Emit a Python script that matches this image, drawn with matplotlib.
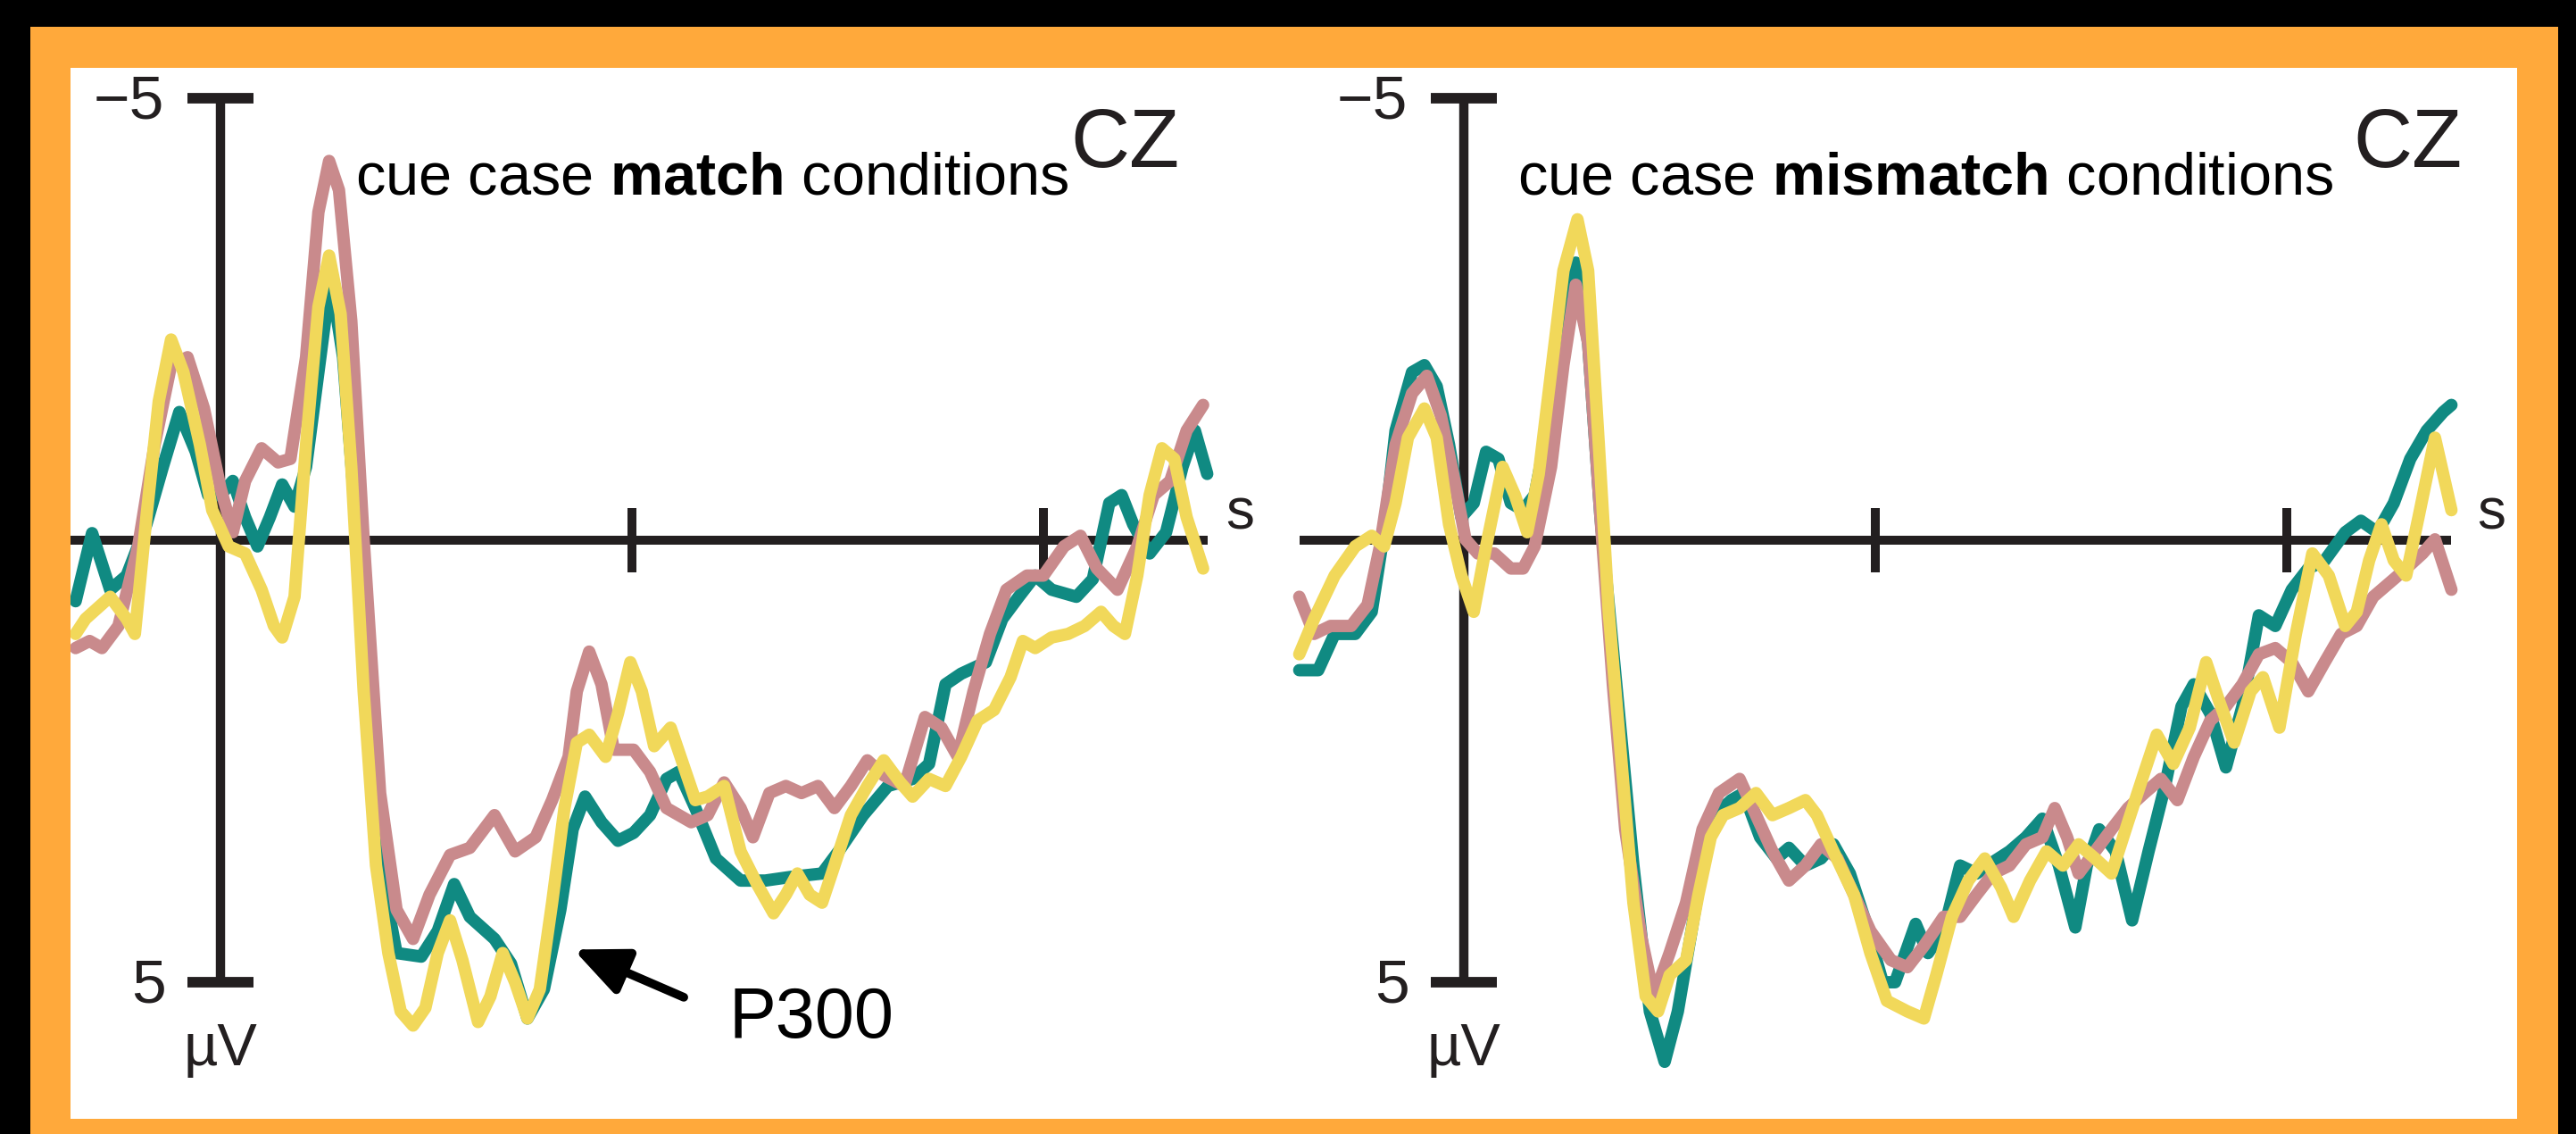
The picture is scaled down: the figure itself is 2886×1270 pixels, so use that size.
import matplotlib
matplotlib.use("Agg")
import matplotlib.pyplot as plt
from matplotlib.patches import Rectangle
import numpy as np

plt.rcParams['font.family'] = ['Liberation Sans', 'DejaVu Sans']
plt.rcParams['mathtext.fontset'] = 'custom'
plt.rcParams['mathtext.rm'] = 'Liberation Sans'
plt.rcParams['mathtext.bf'] = 'Liberation Sans:bold'

# ---- data (time in ms, amplitude in microvolts, negative up) ----
# panel 1: cue case match conditions
m_teal_t = [-176, -156, -134, -114, -90, -70, -50, -30, -15, 0, 15, 30, 45, 60, 75, 90, 104, 119, 134, 149,
            164, 179, 194, 214, 244, 264, 284, 303, 333, 353, 373, 393, 413, 428, 443, 463, 483, 502, 522, 542,
            557, 577, 602, 632, 662, 692, 731, 751, 781, 811, 841, 861, 881, 900, 930, 950, 970, 990, 1010, 1040,
            1060, 1080, 1095, 1109, 1129, 1149, 1169, 1184, 1199]
m_teal_v = [0.69, -0.08, 0.56, 0.40, -0.18, -0.83, -1.45, -1.00, -0.51, -0.51, -0.67, -0.26, 0.07, -0.26, -0.63, -0.38, -0.83, -1.90, -2.97, -2.07,
            -0.26, 1.71, 3.68, 4.67, 4.71, 4.42, 3.89, 4.26, 4.51, 4.79, 5.41, 5.08, 4.18, 3.27, 2.90, 3.19, 3.40, 3.31, 3.11, 2.70,
            2.62, 3.03, 3.60, 3.85, 3.85, 3.81, 3.77, 3.52, 3.11, 2.78, 2.70, 2.53, 1.63, 1.51, 1.38, 0.89, 0.64, 0.40, 0.56, 0.64,
            0.44, -0.42, -0.51, -0.18, 0.15, -0.09, -0.83, -1.24, -0.75]

m_pink_t = [-176, -159, -144, -124, -100, -80, -60, -40, -20, 0, 15, 30, 50, 70, 85, 104, 119, 132, 144, 159,
            174, 194, 214, 234, 254, 279, 303, 333, 358, 383, 403, 423, 433, 448, 463, 478, 502, 522, 542, 572,
            592, 612, 632, 647, 667, 687, 706, 726, 746, 766, 786, 806, 831, 856, 876, 896, 915, 935, 955, 980,
            1000, 1025, 1045, 1065, 1090, 1114, 1134, 1154, 1174, 1194]
m_pink_v = [1.22, 1.14, 1.22, 0.97, 0.07, -1.08, -1.98, -2.07, -1.49, -0.59, -0.09, -0.67, -1.04, -0.88, -0.92, -2.07, -3.71, -4.29, -3.96, -2.48,
            -0.01, 2.86, 4.18, 4.51, 4.01, 3.56, 3.48, 3.11, 3.52, 3.36, 2.94, 2.45, 1.71, 1.26, 1.63, 2.37, 2.37, 2.62, 3.03, 3.19,
            3.11, 2.74, 3.03, 3.36, 2.86, 2.78, 2.86, 2.78, 3.03, 2.78, 2.49, 2.66, 2.78, 2.00, 2.12, 2.45, 1.71, 1.06, 0.56, 0.40,
            0.40, 0.07, -0.05, 0.32, 0.56, 0.07, -0.51, -0.67, -1.24, -1.53]

m_yell_t = [-176, -164, -134, -114, -104, -90, -75, -60, -45, -25, -10, 10, 30, 50, 65, 75, 90, 104, 119, 132,
            146, 159, 174, 189, 204, 219, 234, 249, 264, 279, 294, 313, 328, 343, 358, 373, 388, 403, 418, 433,
            448, 468, 483, 498, 512, 527, 547, 562, 577, 592, 612, 632, 652, 672, 687, 701, 716, 731, 746, 766,
            786, 806, 826, 841, 861, 881, 900, 920, 940, 960, 975, 990, 1010, 1030, 1050, 1070, 1085, 1099, 1114, 1129,
            1144, 1159, 1174, 1194]
m_yell_v = [1.06, 0.89, 0.64, 0.89, 1.06, -0.26, -1.57, -2.27, -1.90, -1.08, -0.34, 0.07, 0.15, 0.56, 0.97, 1.10, 0.64, -1.08, -2.64, -3.22,
            -2.56, -0.83, 1.71, 3.68, 4.67, 5.33, 5.49, 5.29, 4.67, 4.30, 4.75, 5.45, 5.16, 4.67, 5.00, 5.41, 5.08, 4.10, 3.03, 2.29,
            2.20, 2.45, 1.96, 1.38, 1.71, 2.33, 2.12, 2.53, 2.94, 2.90, 2.78, 3.52, 3.89, 4.22, 4.01, 3.77, 4.01, 4.10, 3.68, 3.11,
            2.78, 2.49, 2.74, 2.90, 2.70, 2.78, 2.45, 2.04, 1.92, 1.55, 1.14, 1.22, 1.10, 1.06, 0.97, 0.81, 0.97, 1.06, 0.40, -0.51,
            -1.04, -0.92, -0.26, 0.32]

# panel 2: cue case mismatch conditions
x_teal_t = [-200, -177, -157, -132, -112, -97, -83, -63, -48, -33, -18, -3, 12, 27, 42, 57, 72, 86, 101, 121,
            136, 151, 166, 186, 206, 226, 244, 260, 275, 290, 305, 325, 340, 360, 380, 395, 415, 434, 449, 469,
            489, 509, 524, 549, 564, 583, 603, 623, 643, 663, 683, 703, 723, 743, 757, 772, 792, 812, 832, 852,
            872, 887, 907, 926, 946, 966, 986, 1006, 1026, 1046, 1071, 1090, 1110, 1130, 1150, 1170, 1190, 1200]
x_teal_v = [1.47, 1.47, 1.06, 1.06, 0.81, -0.09, -1.24, -1.90, -1.98, -1.74, -1.08, -0.26, -0.42, -1.00, -0.92, -0.42, -0.34, -0.51, -1.24, -2.31,
            -3.14, -2.23, -0.26, 1.71, 3.68, 5.33, 5.90, 5.33, 4.51, 3.68, 3.11, 2.94, 2.86, 3.36, 3.60, 3.48, 3.68, 3.60, 3.44, 3.77,
            4.34, 5.00, 5.00, 4.34, 4.67, 4.42, 3.68, 3.77, 3.64, 3.52, 3.36, 3.15, 3.68, 4.38, 3.68, 3.27, 3.52, 4.30, 3.52, 2.78,
            1.88, 1.63, 1.96, 2.57, 1.88, 0.85, 0.97, 0.56, 0.32, 0.23, -0.09, -0.22, -0.09, -0.42, -0.92, -1.24, -1.45, -1.53]

x_pink_t = [-200, -182, -162, -137, -117, -102, -83, -63, -45, -28, -13, 2, 17, 37, 57, 72, 86, 106, 121, 136,
            151, 166, 181, 196, 216, 231, 250, 270, 290, 310, 335, 355, 375, 395, 415, 434, 454, 474, 494, 519,
            539, 559, 583, 603, 623, 643, 663, 683, 703, 718, 733, 747, 767, 787, 807, 827, 847, 867, 887, 907,
            926, 946, 966, 986, 1006, 1026, 1046, 1066, 1085, 1105, 1125, 1145, 1165, 1180, 1200]
x_pink_v = [0.64, 1.06, 0.97, 0.97, 0.73, 0.07, -1.08, -1.66, -1.86, -1.41, -0.75, -0.01, 0.15, 0.15, 0.32, 0.32, 0.07, -0.83, -1.98, -2.89,
            -2.23, -0.26, 1.63, 3.27, 4.51, 5.16, 4.67, 4.10, 3.27, 2.86, 2.70, 3.11, 3.52, 3.85, 3.68, 3.44, 3.60, 4.01, 4.42, 4.75,
            4.83, 4.59, 4.26, 4.26, 4.01, 3.77, 3.68, 3.44, 3.36, 3.03, 3.36, 3.77, 3.52, 3.27, 3.03, 2.86, 2.70, 2.94, 2.45, 2.04,
            1.88, 1.63, 1.29, 1.22, 1.38, 1.71, 1.38, 1.06, 0.97, 0.64, 0.48, 0.32, 0.15, -0.01, 0.56]

x_yell_t = [-200, -182, -157, -132, -112, -97, -83, -68, -48, -33, -18, -3, 12, 27, 47, 62, 77, 91, 106, 121,
            138, 151, 164, 176, 191, 206, 221, 236, 250, 270, 285, 300, 315, 335, 355, 375, 395, 415, 429, 449,
            474, 494, 514, 539, 559, 574, 593, 613, 633, 653, 668, 688, 708, 728, 747, 767, 787, 807, 827, 842,
            862, 882, 902, 917, 936, 956, 971, 991, 1011, 1031, 1051, 1071, 1085, 1100, 1115, 1130, 1145, 1160, 1180, 1200]
x_yell_v = [1.29, 0.89, 0.40, 0.07, -0.05, 0.07, -0.42, -1.16, -1.49, -1.16, -0.18, 0.40, 0.81, 0.07, -0.83, -0.51, -0.09, -0.75, -1.90, -3.05,
            -3.63, -3.05, -1.08, 0.81, 2.45, 4.10, 5.16, 5.33, 4.92, 4.75, 4.01, 3.36, 3.11, 3.03, 2.86, 3.11, 3.03, 2.94, 3.11, 3.52,
            4.01, 4.67, 5.21, 5.33, 5.41, 4.92, 4.26, 3.85, 3.60, 3.93, 4.26, 3.85, 3.52, 3.68, 3.44, 3.60, 3.77, 3.19, 2.62, 2.20,
            2.53, 2.12, 1.38, 1.80, 2.29, 1.71, 1.55, 2.12, 1.06, 0.15, 0.40, 0.97, 0.81, 0.23, -0.18, 0.23, 0.40, -0.26, -1.16, -0.34]

titles = ["match", "mismatch"]
x_ticks = [0.5, 1.0]
y_ticks = [-5, 5]

teal = "#108a82"
pink = "#c98a8c"
yellow = "#f1d85a"
ink = "#231f20"

W, H = 2886, 1270
fig = plt.figure(figsize=(W / 100, H / 100), dpi=100, facecolor="black")

# orange frame + white card
fig.add_artist(Rectangle((34 / W, 0), (2866 - 34) / W, 1 - 30 / H, transform=fig.transFigure,
                         facecolor="#ffa93b", edgecolor="none", zorder=-2))
fig.add_artist(Rectangle((79 / W, 1 - 1253 / H), (2820 - 79) / W, (1253 - 76) / H, transform=fig.transFigure,
                         facecolor="white", edgecolor="none", zorder=-1))

y0, y1 = 6.545, -5.343  # inverted: negative up
panels = [
    dict(left=79, right=1440, xlim=(-0.1822, 1.2939), axis_start=-0.182,
         series=[(m_teal_t, m_teal_v, teal), (m_pink_t, m_pink_v, pink), (m_yell_t, m_yell_v, yellow)],
         title_x=0.164, cz_x=1.165, s_x=1.221),
    dict(left=1443, right=2820, xlim=(-0.2137, 1.2798), axis_start=-0.2,
         series=[(x_teal_t, x_teal_v, teal), (x_pink_t, x_pink_v, pink), (x_yell_t, x_yell_v, yellow)],
         title_x=0.065, cz_x=1.2126, s_x=1.231),
]

for i, p in enumerate(panels):
    ax = fig.add_axes([p["left"] / W, 1 - 1253 / H, (p["right"] - p["left"]) / W, (1253 - 76) / H])
    ax.set_facecolor("none")
    ax.set_xlim(*p["xlim"])
    ax.set_ylim(y0, y1)
    ax.axis("off")

    # hand drawn axes
    ax.plot([p["axis_start"], 1.2], [0, 0], color=ink, lw=7.2, solid_capstyle="butt", zorder=2)
    ax.plot([0, 0], y_ticks, color=ink, lw=7.5, solid_capstyle="butt", zorder=2)
    for yt in y_ticks:
        ax.plot([-0.04, 0.04], [yt, yt], color=ink, lw=8.5, solid_capstyle="butt", zorder=2)
    for xt in x_ticks:
        ax.plot([xt, xt], [-0.36, 0.36], color=ink, lw=7.2, solid_capstyle="butt", zorder=2)

    for t, v, c in p["series"]:
        ax.plot(np.array(t) / 1000.0, v, color=c, lw=10, solid_joinstyle="round",
                solid_capstyle="round", zorder=3)

    ax.text(-0.068, -4.95, "\u22125", ha="right", va="center", fontsize=50, color=ink)
    ax.text(-0.066, 5.05, "5", ha="right", va="center", fontsize=50, color=ink)
    ax.text(0, 5.45, "\u00b5V", ha="center", va="top", fontsize=48, color=ink)
    ax.text(p["s_x"], -0.3, "s", ha="left", va="center", fontsize=46, color=ink)
    ax.text(p["cz_x"], -4.22, "CZ", ha="right", va="baseline", fontsize=66, color=ink)
    ax.text(p["title_x"], -3.91, r"cue case $\mathbf{" + titles[i] + "}$ conditions",
            ha="left", va="baseline", fontsize=48, color="black")

    if i == 0:
        ax.annotate("", xy=(0.429, 4.63), xytext=(0.563, 5.17),
                    arrowprops=dict(arrowstyle="-|>,head_length=0.9,head_width=0.4", lw=7,
                                    color="black", mutation_scale=40, shrinkA=0, shrinkB=0))
        ax.text(0.618, 5.63, "P300", ha="left", va="baseline", fontsize=57, color="black")

fig.savefig("out.png", dpi=100, facecolor="black")
